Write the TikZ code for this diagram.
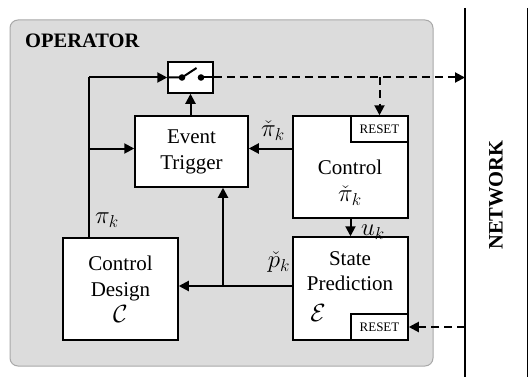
\documentclass[tikz,border=0pt]{standalone}
\usepackage{fontspec}
\setmainfont{Liberation Serif}
\usetikzlibrary{arrows.meta}
\definecolor{opfill}{HTML}{DCDCDC}
\definecolor{opdraw}{HTML}{A8A8A8}
\newcommand{\mbig}[1]{{\fontsize{23}{26}\selectfont$#1$}}
\tikzset{
  blk/.style={draw=black, fill=white, line width=1.5pt, inner sep=0pt, align=center,
    font=\fontsize{21}{26}\selectfont},
  rst/.style={draw=black, fill=white, line width=1.5pt, inner sep=0pt,
    minimum width=57pt, minimum height=26pt, font=\fontsize{13}{14}\selectfont},
  conn/.style={line width=2pt},
  arr/.style={line width=2pt, -{Triangle[length=10pt,width=10pt]}},
  darr/.style={line width=2pt, dash pattern=on 8pt off 5pt, -{Triangle[length=10pt,width=10pt]}},
  lbl/.style={font=\fontsize{23}{26}\selectfont, inner sep=0pt},
  dot/.style={fill=black},
}
\begin{document}
\begin{tikzpicture}[x=1pt,y=-1pt]
\useasboundingbox (0,0) rectangle (529,377);
% operator area
\draw[draw=opdraw, fill=opfill, line width=1pt, rounded corners=8pt] (10,20) rectangle (433,366);
\node[anchor=base west, inner sep=0pt, font=\fontsize{20.5}{24}\selectfont\bfseries] (op) at (25,48) {OPERATOR};
% network
\coordinate (netx) at (465,0);
\draw[line width=1.5pt] (465,8) -- (465,377);
\draw[line width=1.5pt] (527.5,8) -- (527.5,377);
\node[rotate=90, inner sep=0pt, font=\fontsize{20.5}{24}\selectfont\bfseries] (net) at (496,195) {NETWORK};
% blocks
\node[blk, minimum width=45pt, minimum height=31pt] (sw) at (190.5,77.5) {};
\node[blk, minimum width=113pt, minimum height=71pt] (et) at (191.5,151.5) {Event\\Trigger};
\node[blk, minimum width=115pt, minimum height=102pt] (ctl) at (350.5,167) {};
\node[blk, minimum width=115pt, minimum height=103pt] (sp) at (350.5,288.5) {};
\node[blk, minimum width=115pt, minimum height=102pt] (cd) at (120.5,289) {Control\\Design\\\mbig{\mathcal{C}}};
\node[rst] (cr) at (379.5,129) {RESET};
\node[rst] (sr) at (379.5,327) {RESET};
\node[lbl, align=center, font=\fontsize{21}{27}\selectfont] (ctltxt) at (350,183) {Control\\\mbig{\check{\pi}_k}};
\node[lbl, align=center, font=\fontsize{21}{25}\selectfont] (sptxt) at (350,271) {State\\Prediction};
\node[lbl] (eps) at (318,313) {$\mathcal{E}$};
% switch internals
\coordinate (d1) at (182,77.5);
\coordinate (d2) at (201,77.5);
\coordinate (lev) at (196.5,68);
\draw[conn] (sw.west) -- (d1) -- (lev);
\draw[conn] (d2) -- (sw.east);
\fill[dot] (d1) circle (3.3pt);
\fill[dot] (d2) circle (3.3pt);
% connectors
\coordinate (lt) at (89,77.5);
\coordinate (row) at (0,148.5);
\coordinate (prow) at (0,286);
\coordinate (bj) at (223,286);
\draw[conn] (cd.north -| lt) -- (lt);
\draw[arr] (lt) -- (sw.west);
\draw[arr] (lt |- row) -- (et.west |- row);
\draw[arr] (ctl.west |- row) -- (et.east |- row);
\draw[arr] (sw.south |- et.north) -- (sw.south);
\draw[arr] (ctl.south) -- (sp.north);
\draw[arr] (sp.west |- prow) -- (cd.east |- prow);
\draw[arr] (bj) -- (et.south -| bj);
\draw[darr] (sw.east) -- (sw.east -| netx);
\draw[darr] (cr.north |- sw.east) -- (cr.north);
\draw[darr] (sr.east -| netx) -- (sr.east);
% labels
\node[lbl] (lpi) at (107,220) {$\pi_k$};
\node[lbl] (lcpi) at (273,131) {$\check{\pi}_k$};
\node[lbl] (lcp) at (279,262) {$\check{p}_k$};
\node[lbl] (lu) at (373,232) {$u_k$};
\end{tikzpicture}
\end{document}
